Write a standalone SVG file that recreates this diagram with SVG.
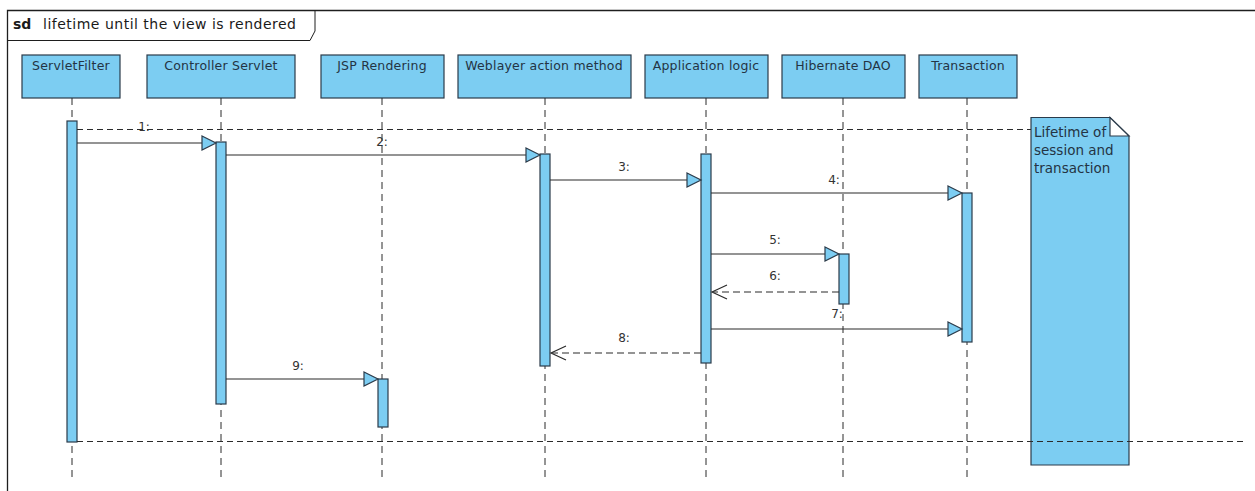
<svg xmlns="http://www.w3.org/2000/svg" width="1255" height="491" viewBox="0 0 1255 491">
  <style>
    text { font-family: "DejaVu Sans", "Liberation Sans", sans-serif; fill: #243444; }
    .head { fill: #7ccdf2; stroke: #2b3b4a; stroke-width: 1.2; }
    .head-label { font-size: 12.5px; text-anchor: middle; letter-spacing: 0.2px; }
    .life { stroke: #2b2b2b; stroke-width: 1; stroke-dasharray: 7 5; fill: none; }
    .act { fill: #7ccdf2; stroke: #2b3b4a; stroke-width: 1.2; }
    .call { stroke: #2b2b2b; stroke-width: 1.2; fill: none; }
    .reply { stroke: #2b2b2b; stroke-width: 1.2; fill: none; stroke-dasharray: 7 4; }
    .guide { stroke: #2b2b2b; stroke-width: 1; fill: none; stroke-dasharray: 6 4; }
    .msg { font-size: 12px; text-anchor: middle; fill: #333; }
    .note-text { font-size: 13.5px; }
    .tip { fill: #7ccdf2; stroke: #2b3b4a; stroke-width: 1.2; stroke-linejoin: miter; }
    .open { fill: none; stroke: #2b2b2b; stroke-width: 1.2; }
  </style>

  <rect width="1255" height="491" fill="#ffffff"/>

  <!-- interaction frame -->
  <g id="frame">
    <path d="M7.5 491 V10.5 H1255" fill="none" stroke="#1e1e1e" stroke-width="1.3"/>
    <path d="M7.5 40.5 H310 L315 31 V10.5" fill="none" stroke="#1e1e1e" stroke-width="1"/>
    <text x="13" y="29" style="font-size:14px;font-weight:bold;fill:#1a1a1a">sd</text>
    <text x="43" y="29" style="font-size:14px;letter-spacing:0.5px;fill:#1a1a1a">lifetime until the view is rendered</text>
  </g>

  <!-- lifelines -->
  <g id="servletFilter">
    <rect class="head" x="22" y="55" width="98" height="43"/>
    <text class="head-label" x="71" y="70">ServletFilter</text>
    <line class="life" x1="72" y1="98" x2="72" y2="480"/>
    <rect class="act" x="67" y="121" width="10" height="321"/>
  </g>

  <g id="controllerServlet">
    <rect class="head" x="147" y="55" width="148" height="43"/>
    <text class="head-label" x="221" y="70">Controller Servlet</text>
    <line class="life" x1="221" y1="98" x2="221" y2="480"/>
    <rect class="act" x="216" y="142" width="10" height="262"/>
  </g>

  <g id="jspRendering">
    <rect class="head" x="321" y="55" width="123" height="43"/>
    <text class="head-label" x="382" y="70">JSP Rendering</text>
    <line class="life" x1="382" y1="98" x2="382" y2="480"/>
    <rect class="act" x="378" y="379" width="10" height="48"/>
  </g>

  <g id="weblayerAction">
    <rect class="head" x="458" y="55" width="173" height="43"/>
    <text class="head-label" x="544" y="70">Weblayer action method</text>
    <line class="life" x1="545" y1="98" x2="545" y2="480"/>
    <rect class="act" x="540" y="154" width="10" height="212"/>
  </g>

  <g id="applicationLogic">
    <rect class="head" x="645" y="55" width="123" height="43"/>
    <text class="head-label" x="706" y="70">Application logic</text>
    <line class="life" x1="706" y1="98" x2="706" y2="480"/>
    <rect class="act" x="701" y="154" width="10" height="209"/>
  </g>

  <g id="hibernateDao">
    <rect class="head" x="782" y="55" width="123" height="43"/>
    <text class="head-label" x="843" y="70">Hibernate DAO</text>
    <line class="life" x1="843" y1="98" x2="843" y2="480"/>
    <rect class="act" x="839" y="254" width="10" height="50"/>
  </g>

  <g id="transaction">
    <rect class="head" x="919" y="55" width="98" height="43"/>
    <text class="head-label" x="968" y="70">Transaction</text>
    <line class="life" x1="967" y1="98" x2="967" y2="480"/>
    <rect class="act" x="962" y="193" width="10" height="149"/>
  </g>

  <!-- note spanning the session/transaction lifetime -->
  <g id="lifetimeNote">
    <path d="M1031 117.5 H1110 L1129 136 V465 H1031 Z" fill="#7ccdf2" stroke="#2b3b4a" stroke-width="1.2"/>
    <path d="M1110 117.5 V136 H1129 Z" fill="#ffffff" stroke="#2b3b4a" stroke-width="1.2"/>
    <text class="note-text" x="1034" y="137">Lifetime of</text>
    <text class="note-text" x="1034" y="155">session and</text>
    <text class="note-text" x="1034" y="173">transaction</text>
  </g>

  <!-- messages -->
  <g id="connectors">
    <!-- lifetime guide lines -->
    <line class="guide" x1="77" y1="129.5" x2="1031" y2="129.5"/>
    <line class="guide" x1="77" y1="441.5" x2="1243" y2="441.5"/>

    <!-- 1 -->
    <line class="call" x1="77" y1="143" x2="203" y2="143"/>
    <path class="tip" d="M202 136 L216 143 L202 150 Z"/>
    <text class="msg" x="144" y="131">1:</text>
    <!-- 2 -->
    <line class="call" x1="226" y1="155" x2="527" y2="155"/>
    <path class="tip" d="M526 148 L540 155 L526 162 Z"/>
    <text class="msg" x="382" y="146">2:</text>
    <!-- 3 -->
    <line class="call" x1="550" y1="180" x2="688" y2="180"/>
    <path class="tip" d="M687 173 L701 180 L687 187 Z"/>
    <text class="msg" x="624" y="171">3:</text>
    <!-- 4 -->
    <line class="call" x1="711" y1="193" x2="949" y2="193"/>
    <path class="tip" d="M948 186 L962 193 L948 200 Z"/>
    <text class="msg" x="834" y="184">4:</text>
    <!-- 5 -->
    <line class="call" x1="711" y1="254" x2="826" y2="254"/>
    <path class="tip" d="M825 247 L839 254 L825 261 Z"/>
    <text class="msg" x="775" y="244">5:</text>
    <!-- 6 -->
    <line class="reply" x1="839" y1="292" x2="713" y2="292"/>
    <path class="open" d="M727 285 L712 292 L727 299"/>
    <text class="msg" x="775" y="280">6:</text>
    <!-- 7 -->
    <line class="call" x1="711" y1="329" x2="949" y2="329"/>
    <path class="tip" d="M948 322 L962 329 L948 336 Z"/>
    <text class="msg" x="837" y="318">7:</text>
    <!-- 8 -->
    <line class="reply" x1="701" y1="353" x2="552" y2="353"/>
    <path class="open" d="M566 346 L551 353 L566 360"/>
    <text class="msg" x="624" y="342">8:</text>
    <!-- 9 -->
    <line class="call" x1="226" y1="379" x2="365" y2="379"/>
    <path class="tip" d="M364 372 L378 379 L364 386 Z"/>
    <text class="msg" x="298" y="370">9:</text>
  </g>
</svg>
